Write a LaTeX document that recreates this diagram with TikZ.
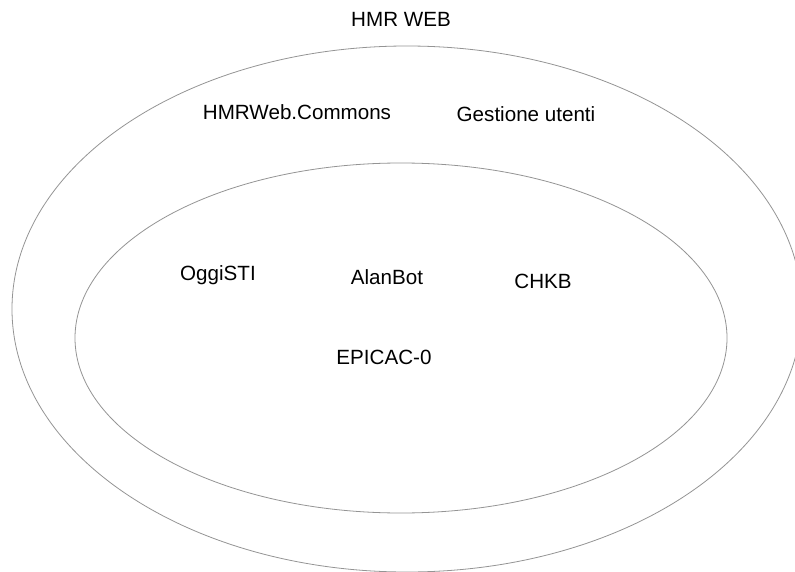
\documentclass[tikz,border=0pt]{standalone}
\usepackage{fontspec}
\setmainfont{Liberation Sans}
\usepackage{tikz}
\usetikzlibrary{positioning}

\tikzset{
  modname/.style={anchor=base, inner sep=0pt, font=\fontsize{20.6}{24}\selectfont},
  ring/.style={draw=black!42, line width=0.8pt}
}

\begin{document}
\begin{tikzpicture}[x=1pt, y=-1pt]
\useasboundingbox (0,0) rectangle (795,572);
\clip (0,0) rectangle (795,572);
\fill[white] (0,0) rectangle (795,572);
\draw[ring] (407,309) ellipse (395 and 263);
\draw[ring] (401,338) ellipse (326 and 175);
\node[modname] (hmrweb) at (401,27) {HMR WEB};
\node[modname] (commons) at (297,120) {HMRWeb.Commons};
\node[modname] (utenti) at (526,122) {Gestione utenti};
\node[modname] (oggisti) at (218,280) {OggiSTI};
\node[modname] (alanbot) at (387,284) {AlanBot};
\node[modname] (chkb) at (543,288) {CHKB};
\node[modname] (epicac) at (384,364) {EPICAC-0};
\draw[line width=1.5pt] (58.5,574) arc (180:0:5.5 and 5);
\end{tikzpicture}
\end{document}
